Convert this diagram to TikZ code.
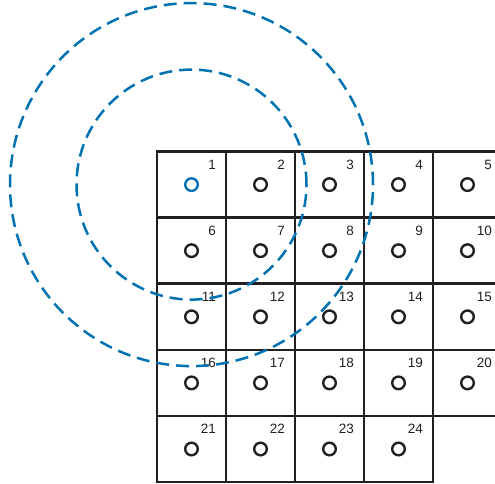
\documentclass[tikz,border=0pt]{standalone}
\usepackage{fontspec}
\setmainfont{Liberation Sans}
\definecolor{ink}{RGB}{35,31,32}
\definecolor{dashblue}{RGB}{0,114,178}
\begin{document}
\begin{tikzpicture}[x=1pt,y=-1pt,
  cellbox/.style={draw=ink, line width=2.6pt, minimum width=69pt, minimum height=66.1pt, inner sep=0pt, outer sep=0pt},
  sensor/.style={circle, draw=ink, line width=2.4pt, minimum size=12.6pt, inner sep=0pt},
  numlabel/.style={anchor=base east, inner sep=0pt, text=ink, font=\fontsize{13.5}{14}\selectfont},
  ring/.style={draw=dashblue, line width=2.5pt, dash pattern=on 13pt off 7pt}]
\useasboundingbox (0,0) rectangle (495,484);
\clip (0,0) rectangle (495,484);
\foreach \i in {1,...,24} {
  \pgfmathtruncatemacro\r{(\i-1)/5}
  \pgfmathtruncatemacro\c{mod(\i-1,5)}
  \node[cellbox] (c\i) at ({191.5+69*\c},{184.6+66.1*\r}) {};
}
\foreach \i in {1,...,24} {
  \node[numlabel] (n\i) at ([xshift=-10pt,yshift=-18pt]c\i.north east) {\i};
  \ifnum\i=1
    \node[sensor, draw=dashblue] (s\i) at (c\i.center) {};
  \else
    \node[sensor] (s\i) at (c\i.center) {};
  \fi
}
\draw[ring] (s1.center) circle[radius=181.5pt];
\draw[ring] (s1.center) circle[radius=115pt];
\end{tikzpicture}
\end{document}
